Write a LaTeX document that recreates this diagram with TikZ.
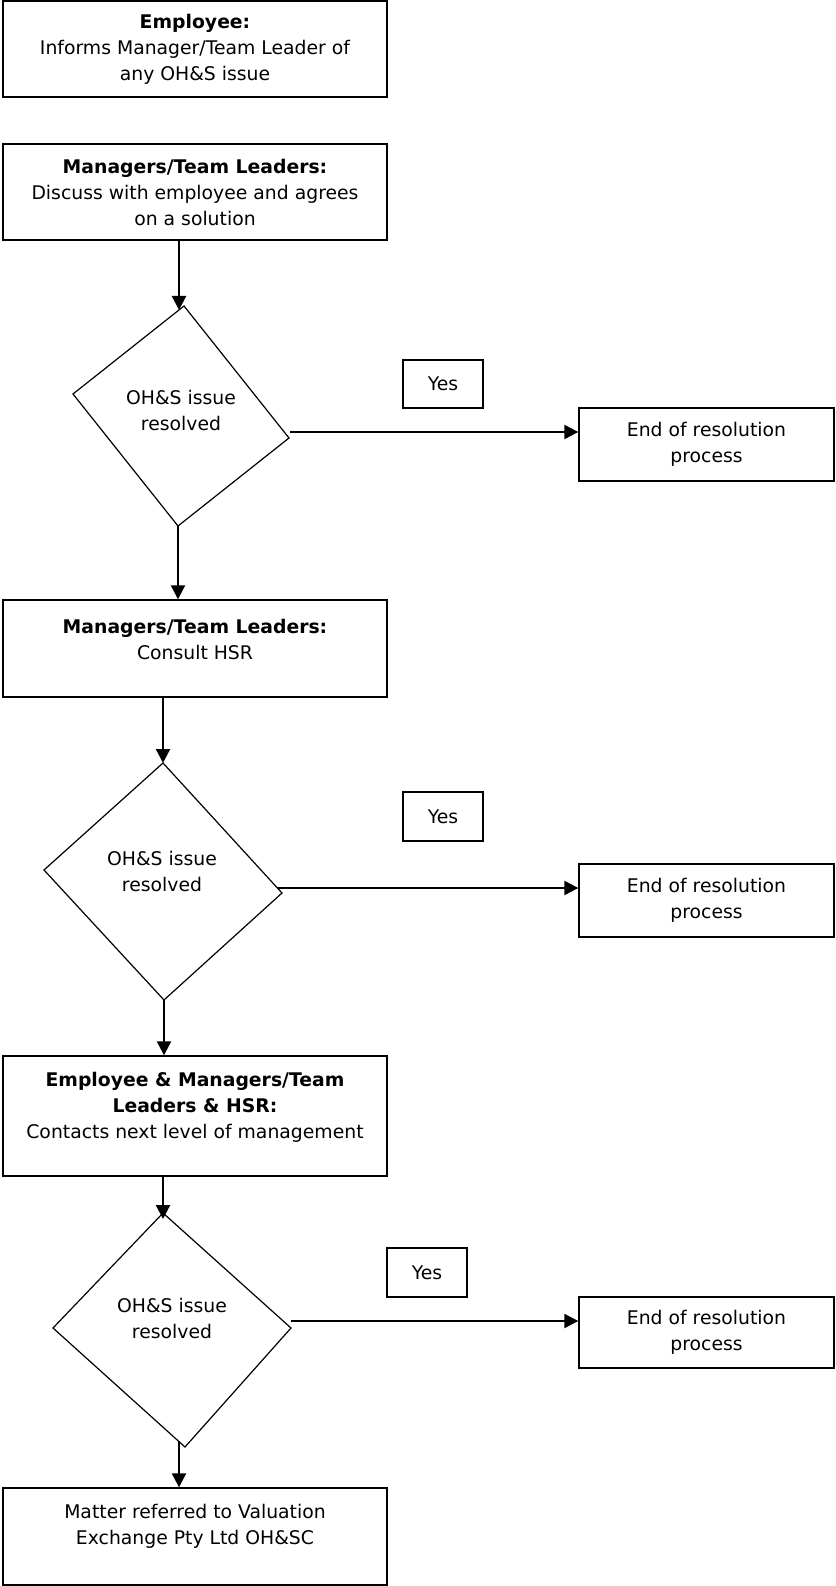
\documentclass[tikz,border=0pt]{standalone}
\usepackage{fontspec}
\setmainfont{DejaVu Sans}
\usetikzlibrary{arrows.meta}
\begin{document}
\begin{tikzpicture}[x=1pt,y=-1pt,
  every node/.style={font=\fontsize{18.8pt}{26pt}\selectfont, align=center, inner sep=0pt},
  box/.style={draw, line width=1.4pt, rectangle, minimum width=384pt},
  endbox/.style={draw, line width=1.4pt, rectangle, minimum width=255pt},
  yesbox/.style={draw, line width=1.4pt, rectangle, minimum width=80pt, minimum height=48pt},
  dia/.style={draw, line width=1.2pt, line join=miter},
  arr/.style={line width=2.2pt, -{Triangle[length=14pt,width=14pt]}}]
\useasboundingbox (0,0) rectangle (835,1586);

% main boxes
\node[box, minimum height=96pt] (b1) at (195,49) {\textbf{Employee:}\\Informs Manager/Team Leader of\\any OH\&S issue};
\node[box, minimum height=96pt] (b2) at (195,192) {\textbf{Managers/Team Leaders:}\\Discuss with employee and agrees\\on a solution};
\node[box, minimum height=97pt, label={[yshift=9.5pt]center:{\textbf{Managers/Team Leaders:}\\Consult HSR}}] (b3) at (195,648.5) {};
\node[box, minimum height=120pt, label={[yshift=9pt]center:{\textbf{Employee \& Managers/Team}\\\textbf{Leaders \& HSR:}\\Contacts next level of management}}] (b4) at (195,1116) {};
\node[box, minimum height=97pt, label={[yshift=10pt]center:{Matter referred to Valuation\\Exchange Pty Ltd OH\&SC}}] (b5) at (195,1536.5) {};

% yes labels
\node[yesbox] (y1) at (443,384) {Yes};
\node[yesbox, minimum height=49pt] (y2) at (443,816.5) {Yes};
\node[yesbox, minimum height=49pt] (y3) at (427,1272.5) {Yes};

% end boxes
\node[endbox, minimum height=73pt] (e1) at (706.5,444.5) {End of resolution\\process};
\node[endbox, minimum height=73pt] (e2) at (706.5,900.5) {End of resolution\\process};
\node[endbox, minimum height=71pt] (e3) at (706.5,1332.5) {End of resolution\\process};

% decisions
\coordinate (d1t) at (184,306); \coordinate (d1r) at (289,438);
\coordinate (d1b) at (178,526); \coordinate (d1l) at (73,394);
\draw[dia] (d1t) -- (d1r) -- (d1b) -- (d1l) -- cycle;
\node (d1) at (181,410.5) {OH\&S issue\\resolved};

\coordinate (d2t) at (163,763); \coordinate (d2r) at (282,893);
\coordinate (d2b) at (164,1000); \coordinate (d2l) at (44,870);
\draw[dia] (d2t) -- (d2r) -- (d2b) -- (d2l) -- cycle;
\node (d2) at (162,871) {OH\&S issue\\resolved};

\coordinate (d3t) at (163,1213); \coordinate (d3r) at (291,1328);
\coordinate (d3b) at (185,1447); \coordinate (d3l) at (53,1328);
\draw[dia] (d3t) -- (d3r) -- (d3b) -- (d3l) -- cycle;
\node (d3) at (172,1318.5) {OH\&S issue\\resolved};

% vertical connectors
\coordinate (a1) at (179,310);
\draw[arr] (b2.south -| a1) -- (a1);
\draw[arr] (d1b) -- (d1b |- b3.north);
\draw[arr] (b3.south -| d2t) -- (d2t);
\draw[arr] (d2b) -- (d2b |- b4.north);
\coordinate (a5) at (163,1219);
\draw[arr] (b4.south -| a5) -- (a5);
\coordinate (a6) at (179,1441);
\draw[arr] (a6) -- (a6 |- b5.north);

% yes connectors
\coordinate (h1) at (290,432);
\draw[arr] (h1) -- (h1 -| e1.west);
\coordinate (h2) at (277,888);
\draw[arr] (h2) -- (h2 -| e2.west);
\coordinate (h3) at (291,1321);
\draw[arr] (h3) -- (h3 -| e3.west);
\end{tikzpicture}
\end{document}
